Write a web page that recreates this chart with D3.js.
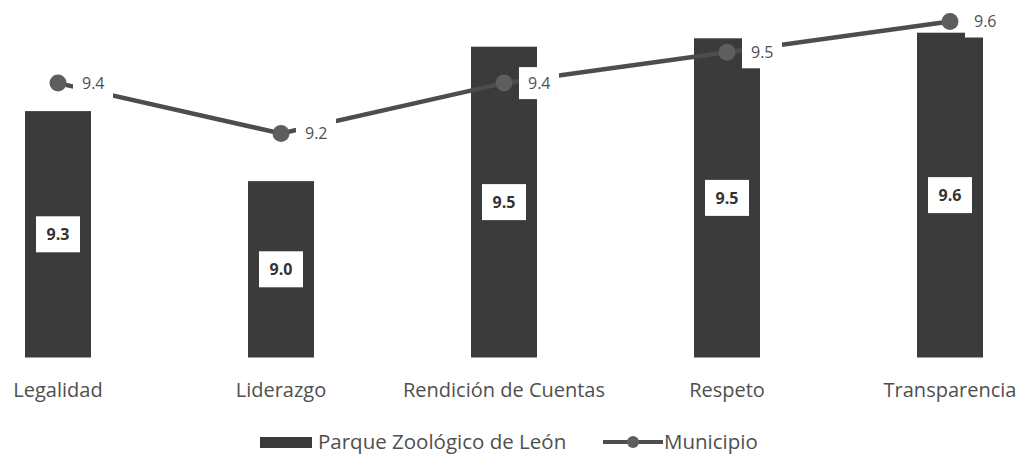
<!DOCTYPE html>
<html>
<head>
<meta charset="utf-8">
<script src="https://cdn.jsdelivr.net/npm/d3@7"></script>
<style>
  body { margin: 0; background: #fff; }
  text { font-family: "Open Sans", "Noto Sans", sans-serif; }
</style>
</head>
<body>
<script>
// Data
const categories = ['Legalidad', 'Liderazgo', 'Rendición de Cuentas', 'Respeto', 'Transparencia'];
const parqueValues = [9.28, 9.03, 9.51, 9.54, 9.56];
const municipioValues = [9.38, 9.20, 9.38, 9.49, 9.60];
const seriesNames = ['Parque Zoológico de León', 'Municipio'];

const width = 1023,
      height = 456;

const barColor = '#3b3b3b',
    lineColor = '#4d4d4d',
    markerColor = '#5e5e5e',
    textColor = '#4f4f4f';

const svg = d3.select('body').append('svg')
    .attr('width', width)
    .attr('height', height);

const x = d3.scalePoint()
    .domain(categories)
    .range([58, 950]);

const y = d3.scaleLinear()
    .domain([8.4, 9.7])
    .range([357.5, -6.5]);

const barWidth = 66;
const fmt = d3.format('.1f');

// bars
const bars = svg.append('g');
bars.selectAll('rect')
  .data(parqueValues)
  .enter().append('rect')
    .attr('x', (d, i) => x(categories[i]) - barWidth / 2)
    .attr('y', d => y(d))
    .attr('width', barWidth)
    .attr('height', d => y(8.4) - y(d))
    .attr('fill', barColor);

// bar labels
const barLabels = svg.append('g').selectAll('g')
  .data(parqueValues)
  .enter().append('g')
    .attr('transform', (d, i) =>
      'translate(' + x(categories[i]) + ',' + (y(d) + y(8.4)) / 2 + ')');
barLabels.append('rect')
    .attr('x', -22)
    .attr('y', -18)
    .attr('width', 44)
    .attr('height', 36)
    .attr('fill', '#fff');
barLabels.append('text')
    .attr('text-anchor', 'middle')
    .attr('dy', '0.36em')
    .attr('font-size', 16)
    .attr('font-weight', 'bold')
    .attr('fill', '#333')
    .text(d => fmt(d));

// line
const line = d3.line()
    .x((d, i) => x(categories[i]))
    .y(d => y(d));

svg.append('path')
    .datum(municipioValues)
    .attr('d', line)
    .attr('fill', 'none')
    .attr('stroke', lineColor)
    .attr('stroke-width', 4.5);

svg.append('g').selectAll('circle')
  .data(municipioValues)
  .enter().append('circle')
    .attr('cx', (d, i) => x(categories[i]))
    .attr('cy', d => y(d))
    .attr('r', 8.5)
    .attr('fill', markerColor);

// line labels, white box hides the line under them
const lineLabels = svg.append('g').selectAll('g')
  .data(municipioValues)
  .enter().append('g')
    .attr('transform', (d, i) =>
      'translate(' + x(categories[i]) + ',' + y(d) + ')');
lineLabels.append('rect')
    .attr('x', 15)
    .attr('y', -16)
    .attr('width', 40)
    .attr('height', 32)
    .attr('fill', '#fff');
lineLabels.append('text')
    .attr('x', 24)
    .attr('dy', '0.36em')
    .attr('font-size', 16)
    .attr('fill', textColor)
    .text(d => fmt(d));

// category labels
svg.append('g').selectAll('text')
  .data(categories)
  .enter().append('text')
    .attr('x', d => x(d))
    .attr('y', 390)
    .attr('dy', '0.36em')
    .attr('text-anchor', 'middle')
    .attr('font-size', 20)
    .attr('fill', textColor)
    .text(d => d);

// legend
const legend = svg.append('g');
legend.append('rect')
    .attr('x', 260)
    .attr('y', 437)
    .attr('width', 52)
    .attr('height', 11)
    .attr('fill', barColor);
legend.append('text')
    .attr('x', 318)
    .attr('y', 442)
    .attr('dy', '0.36em')
    .attr('font-size', 20.5)
    .attr('fill', textColor)
    .text(seriesNames[0]);
legend.append('line')
    .attr('x1', 603)
    .attr('x2', 663)
    .attr('y1', 442)
    .attr('y2', 442)
    .attr('stroke', lineColor)
    .attr('stroke-width', 4);
legend.append('circle')
    .attr('cx', 633)
    .attr('cy', 442)
    .attr('r', 6)
    .attr('fill', markerColor);
legend.append('text')
    .attr('x', 664)
    .attr('y', 442)
    .attr('dy', '0.36em')
    .attr('font-size', 20.5)
    .attr('fill', textColor)
    .text(seriesNames[1]);
</script>
</body>
</html>
